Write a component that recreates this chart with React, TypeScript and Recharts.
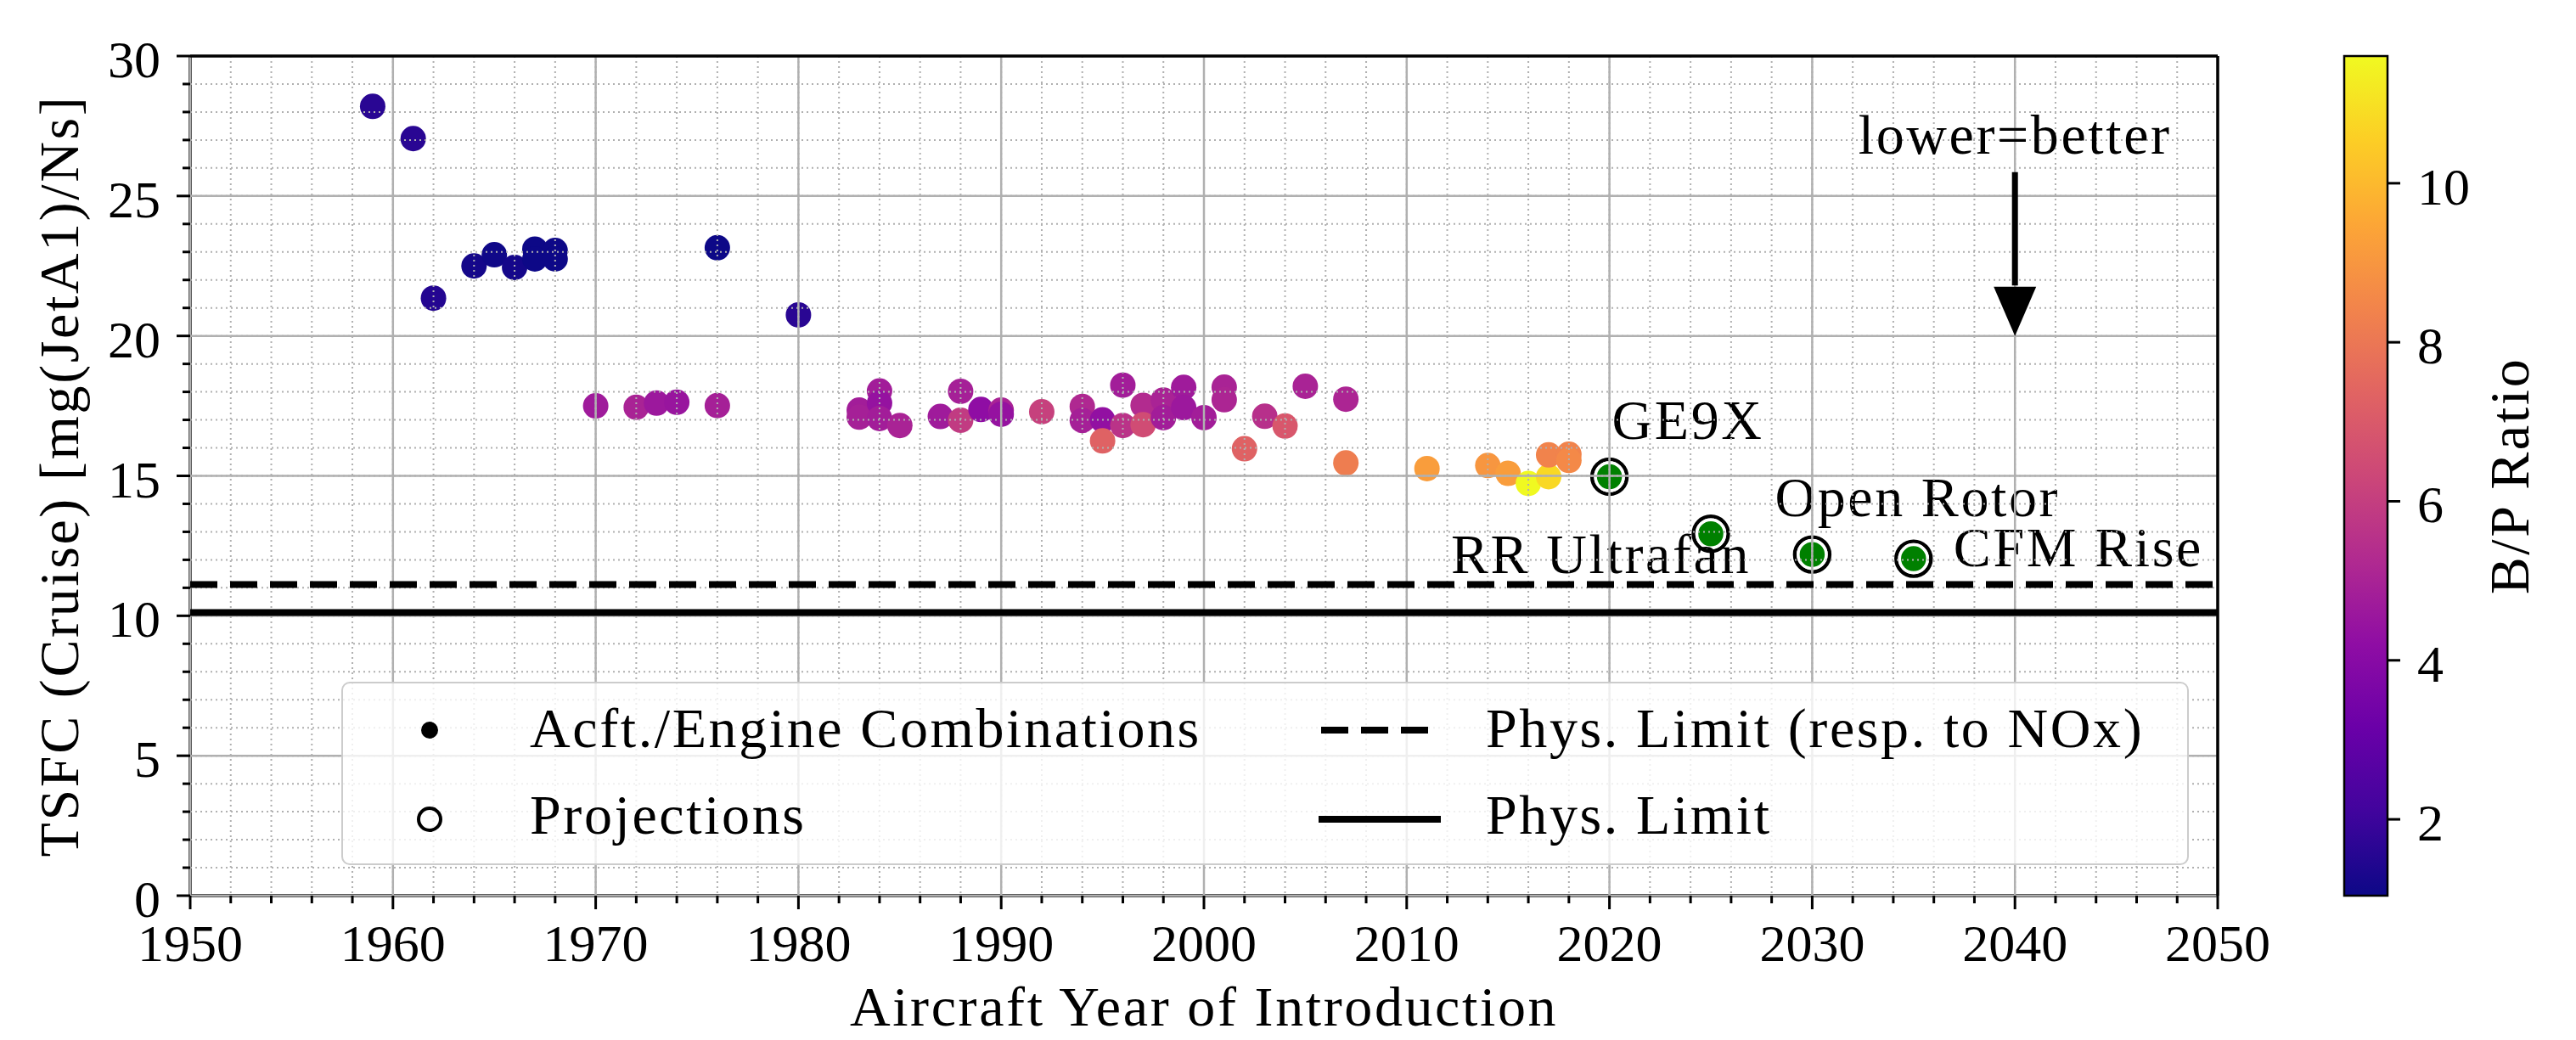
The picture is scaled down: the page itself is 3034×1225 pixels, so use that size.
import React from "react";
import {
  ScatterChart,
  ComposedChart,
  Scatter,
  XAxis,
  YAxis,
  CartesianGrid,
  ReferenceLine,
  ReferenceDot,
  ReferenceArea,
  Legend,
} from "recharts";

if (typeof document !== "undefined") document.body.style.margin = "0";

const FONT = '"Liberation Serif", "Times New Roman", serif';
const FS = 62;

// Aircraft / engine combinations: year of introduction, cruise TSFC, bypass ratio
const engineYears = [
  1959, 1961, 1962, 1964, 1965, 1966, 1967, 1967, 1968, 1968, 1976, 1980,
  1970, 1972, 1973, 1974, 1976, 1983, 1983, 1984, 1984, 1984, 1985, 1987,
  1988, 1988, 1989, 1990, 1990, 1992, 1994, 1994, 1995, 1995, 1996, 1996,
  1997, 1997, 1998, 1998, 1999, 1999, 2000, 2001, 2001, 2002, 2003, 2004,
  2005, 2007, 2007, 2011, 2014, 2015, 2016, 2017, 2017, 2018, 2018,
];
const engineTsfc = [
  28.2, 27.05, 21.35, 22.5, 22.9, 22.45, 23.1, 22.75, 23.05, 22.75, 23.15, 20.75,
  17.5, 17.45, 17.6, 17.63, 17.51, 17.35, 17.1, 18.03, 17.6, 17.05, 16.8, 17.12,
  18.02, 16.99, 17.37, 17.35, 17.2, 17.29, 17.48, 16.98, 17.0, 16.25, 18.24, 16.8,
  17.52, 16.83, 17.71, 17.08, 18.16, 17.44, 17.08, 18.17, 17.72, 15.97, 17.13, 16.78,
  18.2, 17.74, 15.46, 15.26, 15.37, 15.09, 14.73, 14.97, 15.75, 15.77, 15.55,
];
const engineBypass = [
  1.6, 1.6, 1.5, 1.2, 1.1, 1.2, 1.04, 1.05, 1.04, 1.05, 1.04, 1.6,
  4.7, 5.0, 4.6, 4.5, 4.9, 4.8, 4.9, 4.8, 4.4, 4.8, 5.0, 4.7,
  4.9, 5.9, 4.2, 5.0, 4.4, 6.1, 5.2, 4.9, 4.3, 7.3, 4.8, 5.6,
  5.3, 6.5, 5.0, 4.8, 4.7, 4.6, 4.8, 5.0, 5.1, 7.3, 5.5, 6.9,
  5.0, 5.1, 8.2, 9.2, 9.0, 9.2, 11.6, 10.8, 8.4, 8.4, 8.6,
];

// Projected engines
const projectionNames = ["GE9X", "RR Ultrafan", "Open Rotor", "CFM Rise"];
const projectionYears = [2020, 2025, 2030, 2035];
const projectionTsfc = [14.97, 12.93, 12.19, 12.04];

const NOX_LIMIT = 11.12;
const PHYS_LIMIT = 10.12;

const xMajorTicks = [1950, 1960, 1970, 1980, 1990, 2000, 2010, 2020, 2030, 2040, 2050];
const xMinorTicks = [
  1950, 1952, 1954, 1956, 1958, 1960, 1962, 1964, 1966, 1968, 1970, 1972, 1974,
  1976, 1978, 1980, 1982, 1984, 1986, 1988, 1990, 1992, 1994, 1996, 1998, 2000,
  2002, 2004, 2006, 2008, 2010, 2012, 2014, 2016, 2018, 2020, 2022, 2024, 2026,
  2028, 2030, 2032, 2034, 2036, 2038, 2040, 2042, 2044, 2046, 2048, 2050,
];
const yMajorTicks = [0, 5, 10, 15, 20, 25, 30];
const yMinorTicks = [
  0, 1, 2, 3, 4, 5, 6, 7, 8, 9, 10, 11, 12, 13, 14, 15, 16, 17, 18, 19, 20, 21,
  22, 23, 24, 25, 26, 27, 28, 29, 30,
];
const colorbarTicks = [2, 4, 6, 8, 10];

const engines = engineYears.map((year, i) => ({ year, tsfc: engineTsfc[i], bp: engineBypass[i] }));
const projections = projectionNames.map((name, i) => ({
  name,
  year: projectionYears[i],
  tsfc: projectionTsfc[i],
}));

const BP_MIN = Math.min(...engineBypass);
const BP_MAX = Math.max(...engineBypass);

// matplotlib "plasma" colormap anchors
const PLASMA = [
  "#0d0887", "#41049d", "#6a00a8", "#8f0da4", "#b12a90", "#cc4778",
  "#e16462", "#f2844b", "#fca636", "#fcce25", "#f0f921",
];

function hexToRgb(h: string) {
  return [parseInt(h.slice(1, 3), 16), parseInt(h.slice(3, 5), 16), parseInt(h.slice(5, 7), 16)];
}

function plasma(t: number) {
  const c = Math.max(0, Math.min(1, t)) * (PLASMA.length - 1);
  const i = Math.min(Math.floor(c), PLASMA.length - 2);
  const f = c - i;
  const a = hexToRgb(PLASMA[i]);
  const b = hexToRgb(PLASMA[i + 1]);
  const m = a.map((v, k) => Math.round(v + (b[k] - v) * f));
  return `rgb(${m[0]},${m[1]},${m[2]})`;
}

const bpColor = (bp: number) => plasma((bp - BP_MIN) / (BP_MAX - BP_MIN));

// label placement relative to projection marker (px)
const labelOffsets: Record<string, { dx: number; dy: number; anchor: string }> = {
  GE9X: { dx: 3, dy: -44, anchor: "start" },
  "RR Ultrafan": { dx: 47, dy: 46, anchor: "end" },
  "Open Rotor": { dx: -44, dy: -45, anchor: "start" },
  "CFM Rise": { dx: 47, dy: 9, anchor: "start" },
};

const ARROW_X = 2040;
const ARROW_TOP = 25.85;
const ARROW_SHAFT_END = 21.8;
const ARROW_TIP = 20;
const ARROW_TEXT_Y = 26.5;

// numbers
const num = { fontFamily: FONT, fontSize: FS, fill: "#000" };
// words (a touch wider, like the LaTeX font of the original)
const txt = { fontFamily: FONT, fontSize: 66, fill: "#000", letterSpacing: 2.6 };

const EngineDot = (props: any) => {
  const { cx, cy, payload } = props;
  if (cx == null || cy == null) return null;
  return <circle cx={cx} cy={cy} r={15} fill={bpColor(payload.bp)} />;
};

const ProjectionDot = (props: any) => {
  const { cx, cy, payload } = props;
  if (cx == null || cy == null) return null;
  const o = labelOffsets[payload.name];
  return (
    <g>
      <circle cx={cx} cy={cy} r={20.5} fill="none" stroke="#000" strokeWidth={4.4} />
      <circle cx={cx} cy={cy} r={16.5} fill="#008000" stroke="#fff" strokeWidth={3.5} />
      <text x={cx + o.dx} y={cy + o.dy} textAnchor={o.anchor as any} {...txt}>
        {payload.name}
      </text>
    </g>
  );
};

const renderXTick = (props: any) => {
  const { x, y, payload } = props;
  const major = payload.value % 10 === 0;
  return (
    <g>
      <line x1={x} x2={x} y1={y} y2={y + (major ? 16 : 9)} stroke="#000" strokeWidth={3} />
      {major && (
        <text x={x} y={y + 77} textAnchor="middle" {...num}>
          {payload.value}
        </text>
      )}
    </g>
  );
};

const renderYTick = (props: any) => {
  const { x, y, payload } = props;
  const major = payload.value % 5 === 0;
  return (
    <g>
      <line x1={x - (major ? 16 : 9)} x2={x} y1={y} y2={y} stroke="#000" strokeWidth={3} />
      {major && (
        <text x={x - 35} y={y + 25} textAnchor="end" {...num}>
          {payload.value}
        </text>
      )}
    </g>
  );
};

const renderCbTick = (props: any) => {
  const { x, y, payload } = props;
  return (
    <g>
      <line x1={x} x2={x + 15} y1={y} y2={y} stroke="#000" strokeWidth={3} />
      <text x={x + 35} y={y + 25} textAnchor="start" {...num}>
        {payload.value}
      </text>
    </g>
  );
};

const renderXLabel = (props: any) => {
  const vb = props.viewBox;
  return (
    <text x={vb.x + vb.width / 2} y={vb.y + 153} textAnchor="middle" {...txt}>
      Aircraft Year of Introduction
    </text>
  );
};

const renderYLabel = (props: any) => {
  const vb = props.viewBox;
  const cx = 92;
  const cy = vb.y + vb.height / 2;
  return (
    <text x={cx} y={cy} textAnchor="middle" transform={`rotate(-90, ${cx}, ${cy})`} {...txt}>
      TSFC (Cruise) [mg(JetA1)/Ns]
    </text>
  );
};

const renderCbLabel = (props: any) => {
  const vb = props.viewBox;
  const cx = vb.x + 166;
  const cy = vb.y + vb.height / 2;
  return (
    <text x={cx} y={cy} textAnchor="middle" transform={`rotate(-90, ${cx}, ${cy})`} {...txt}>
      B/P Ratio
    </text>
  );
};

const renderLegend = () => (
  <div
    style={{
      boxSizing: "border-box",
      width: 2176,
      height: 216,
      border: "2.5px solid #cccccc",
      borderRadius: 10,
      background: "rgba(255,255,255,0.8)",
      position: "relative",
    }}
  >
    <svg width={2176} height={216} style={{ position: "absolute", left: -2.5, top: -2.5 }}>
      <circle cx={104} cy={57} r={10} fill="#000" />
      <text x={222} y={77} {...txt}>Acft./Engine Combinations</text>
      <circle cx={104} cy={162} r={13} fill="none" stroke="#000" strokeWidth={4} />
      <text x={222} y={179} {...txt}>Projections</text>
      <line x1={1154} x2={1288} y1={57} y2={57} stroke="#000" strokeWidth={8} strokeDasharray="32 15" />
      <text x={1348} y={77} {...txt}>Phys. Limit (resp. to NOx)</text>
      <line x1={1151} x2={1295} y1={162} y2={162} stroke="#000" strokeWidth={8} />
      <text x={1348} y={179} {...txt}>Phys. Limit</text>
    </svg>
  </div>
);

export default function App() {
  return (
    <div style={{ position: "relative", width: 3034, height: 1225, background: "#fff" }}>
      <ScatterChart width={3034} height={1225} margin={{ top: 66, right: 422, bottom: 0, left: 0 }}>
        <XAxis
          type="number"
          dataKey="year"
          domain={[1950, 2050]}
          ticks={xMinorTicks}
          interval={0}
          height={170}
          tickLine={false}
          tickSize={0}
          tickMargin={0}
          tick={renderXTick}
          axisLine={{ stroke: "#000", strokeWidth: 3.5 }}
          allowDataOverflow
          label={renderXLabel}
        />
        <XAxis xAxisId="major" type="number" dataKey="year" domain={[1950, 2050]} ticks={xMajorTicks} allowDataOverflow hide />
        <YAxis
          type="number"
          dataKey="tsfc"
          domain={[0, 30]}
          ticks={yMinorTicks}
          interval={0}
          width={224}
          tickLine={false}
          tickSize={0}
          tickMargin={0}
          tick={renderYTick}
          axisLine={{ stroke: "#000", strokeWidth: 3.5 }}
          allowDataOverflow
          label={renderYLabel}
        />
        <YAxis yAxisId="major" type="number" dataKey="tsfc" domain={[0, 30]} ticks={yMajorTicks} allowDataOverflow hide />

        <Scatter data={engines} isAnimationActive={false} shape={EngineDot} />
        <Scatter data={projections} isAnimationActive={false} shape={ProjectionDot} />

        <CartesianGrid stroke="#b0b0b0" strokeWidth={2} strokeDasharray="2 4" zIndex={700} />
        <CartesianGrid xAxisId="major" yAxisId="major" stroke="#b0b0b0" strokeWidth={2.5} zIndex={710} />

        <ReferenceLine y={NOX_LIMIT} stroke="#000" strokeWidth={8} strokeDasharray="32 15" zIndex={800} />
        <ReferenceLine y={PHYS_LIMIT} stroke="#000" strokeWidth={8} zIndex={800} />
        <ReferenceLine y={30} stroke="#000" strokeWidth={3.5} zIndex={800} />
        <ReferenceLine x={2050} stroke="#000" strokeWidth={3.5} zIndex={800} />

        <ReferenceLine
          segment={[
            { x: ARROW_X, y: ARROW_TOP },
            { x: ARROW_X, y: ARROW_SHAFT_END },
          ]}
          stroke="#000"
          strokeWidth={7}
          zIndex={800}
        />
        <ReferenceDot
          x={ARROW_X}
          y={ARROW_TIP}
          zIndex={800}
          shape={(p: any) => (
            <polygon points={`${p.cx - 25},${p.cy - 58} ${p.cx + 25},${p.cy - 58} ${p.cx},${p.cy}`} fill="#000" />
          )}
        />
        <ReferenceDot
          x={ARROW_X}
          y={ARROW_TEXT_Y}
          zIndex={800}
          shape={(p: any) => (
            <text x={p.cx} y={p.cy} textAnchor="middle" {...txt}>
              lower=better
            </text>
          )}
        />

        <Legend
          layout="vertical"
          align="center"
          verticalAlign="middle"
          content={renderLegend}
          wrapperStyle={{ left: 402, top: 803, width: 2176, height: 216 }}
        />
      </ScatterChart>

      <div style={{ position: "absolute", left: 2700, top: 0 }}>
        <ComposedChart width={334} height={1225} margin={{ top: 66, right: 0, bottom: 170, left: 61 }} data={[{ x: 0 }, { x: 1 }]}>
          <defs>
            <linearGradient id="plasmaGrad" x1="0" y1="1" x2="0" y2="0">
              {PLASMA.map((c, i) => (
                <stop key={c} offset={i / (PLASMA.length - 1)} stopColor={c} />
              ))}
            </linearGradient>
          </defs>
          <XAxis type="number" dataKey="x" domain={[0, 1]} hide />
          <YAxis
            orientation="right"
            type="number"
            domain={[BP_MIN, BP_MAX]}
            ticks={colorbarTicks}
            interval={0}
            width={222}
            tickLine={false}
            tickSize={0}
            tickMargin={0}
            axisLine={false}
            tick={renderCbTick}
            allowDataOverflow
            label={renderCbLabel}
          />
          <ReferenceArea
            x1={0}
            x2={1}
            y1={BP_MIN}
            y2={BP_MAX}
            fill="url(#plasmaGrad)"
            fillOpacity={1}
            stroke="#000"
            strokeWidth={2.5}
            ifOverflow="visible"
          />
        </ComposedChart>
      </div>
    </div>
  );
}
